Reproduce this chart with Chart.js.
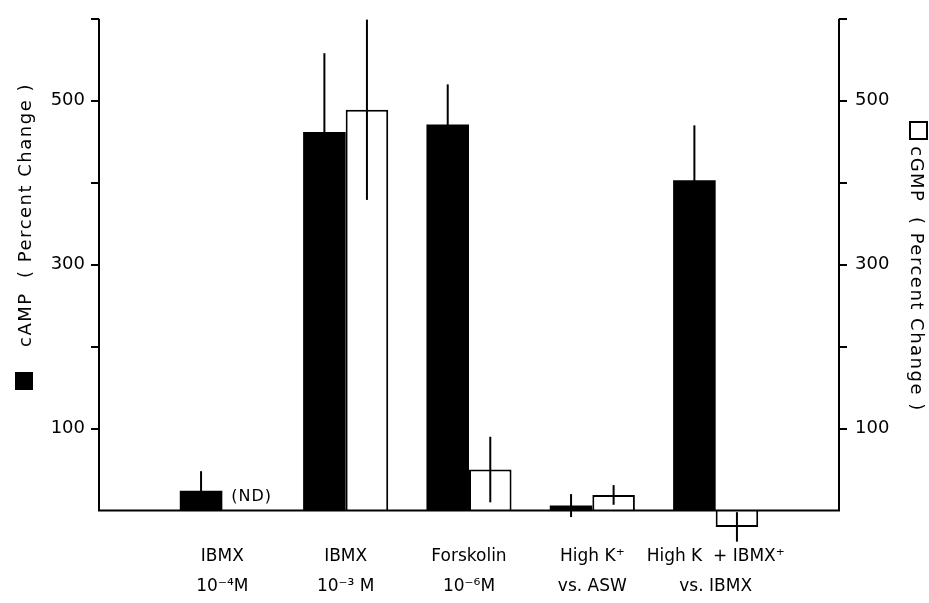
<!DOCTYPE html>
<html>
<head>
<meta charset="utf-8">
<script src="https://cdn.jsdelivr.net/npm/chart.js@4"></script>
<style>
  html, body { margin: 0; padding: 0; background: #fff; }
  #wrap { width: 929px; height: 603px; position: relative; }
</style>
</head>
<body>
<div id="wrap"><canvas id="chart"></canvas></div>
<script>
// categories (empty slots at both ends keep the groups off the axes)
const categories = ['', ['IBMX', '10⁻⁴M'], ['IBMX', '10⁻³ M'], ['Forskolin', '10⁻⁶M'], ['High K⁺', 'vs. ASW'], ['High K  + IBMX⁺', 'vs. IBMX'], ''];
const campValues = [null, 24, 462, 471, 6, 403, null];
const campErrors = [null, 24, 96, 49, 14, 67, null];
const cgmpValues = [null, null, 489, 50, 19, -20, null];
const cgmpErrors = [null, null, 110, 40, 12, 18, null];
const yTicks = [100, 200, 300, 400, 500, 600];
const yLabels = [100, 300, 500];

const FONT = 'DejaVu Sans';

// axes lines, error bars, titles and legend squares
const decorations = {
    id: 'decorations',
    afterDatasetsDraw(chart) {
        const { ctx, chartArea } = chart;
        const y = chart.scales.y;
        const y0 = y.getPixelForValue(0);
        const yTop = y.getPixelForValue(600);

        ctx.save();
        ctx.strokeStyle = '#000';
        ctx.lineWidth = 2;

        // error bars
        [[campValues, campErrors], [cgmpValues, cgmpErrors]].forEach(([vals, errs], d) => {
            const meta = chart.getDatasetMeta(d);
            vals.forEach((v, i) => {
                if (v === null || errs[i] === null) return;
                const x = meta.data[i].x;
                ctx.beginPath();
                ctx.moveTo(x, y.getPixelForValue(v + errs[i]));
                ctx.lineTo(x, y.getPixelForValue(v - errs[i]));
                ctx.stroke();
            });
        });

        // frame: left axis, baseline, right axis
        ctx.beginPath();
        ctx.moveTo(chartArea.left, yTop);
        ctx.lineTo(chartArea.left, y0);
        ctx.lineTo(chartArea.right, y0);
        ctx.lineTo(chartArea.right, yTop);
        ctx.stroke();

        // (ND) note beside the IBMX 10-4 bar
        const bar = chart.getDatasetMeta(0).data[1];
        ctx.fillStyle = '#000';
        ctx.font = '16px ' + FONT;
        ctx.letterSpacing = '1px';
        ctx.textAlign = 'left';
        ctx.textBaseline = 'middle';
        ctx.fillText('(ND)', bar.x + bar.width / 2 + 9, y.getPixelForValue(campValues[1]) + 6);

        // axis titles
        ctx.font = '18px ' + FONT;
        ctx.letterSpacing = '1.5px';
        ctx.textAlign = 'center';
        ctx.save();
        ctx.translate(26, 215);
        ctx.rotate(-Math.PI / 2);
        ctx.fillText('cAMP  ( Percent Change )', 0, 0);
        ctx.restore();

        ctx.save();
        ctx.translate(916, 279);
        ctx.rotate(Math.PI / 2);
        ctx.fillText('cGMP  ( Percent Change )', 0, 0);
        ctx.restore();

        // legend squares
        ctx.fillRect(15, 372, 18, 18);
        ctx.lineWidth = 2;
        ctx.strokeRect(910, 122, 17, 17);

        ctx.restore();
    }
};

const yCommon = {
    min: -25,
    max: 600,
    afterBuildTicks: (scale) => { scale.ticks = yTicks.map(v => ({ value: v })); },
    border: { display: false },
    grid: { drawOnChartArea: false, drawTicks: true, tickLength: 8, color: '#000', lineWidth: 2 },
};

new Chart(document.getElementById('chart'), {
    type: 'bar',
    data: {
        labels: categories,
        datasets: [{
            label: 'cAMP',
            data: campValues,
            backgroundColor: '#000',
            borderColor: '#000',
            borderWidth: 0,
            yAxisID: 'y'
        }, {
            label: 'cGMP',
            data: cgmpValues,
            backgroundColor: '#fff',
            borderColor: '#000',
            borderWidth: 2,
            yAxisID: 'y'
        }]
    },
    options: {
        responsive: true,
        maintainAspectRatio: false,
        animation: false,
        categoryPercentage: 0.69,
        barPercentage: 1,
        layout: { padding: { top: 15 } },
        plugins: { legend: { display: false }, tooltip: { enabled: false } },
        scales: {
            x: {
                offset: false,
                grid: { display: false },
                border: { display: false },
                afterFit: (scale) => { scale.height = 72; },
                ticks: {
                    autoSkip: false,
                    maxRotation: 0,
                    padding: 2,
                    color: '#000',
                    font: { family: FONT, size: 17, lineHeight: 1.8 }
                }
            },
            y: {
                ...yCommon,
                position: 'left',
                afterFit: (scale) => { scale.width = 99; },
                ticks: {
                    padding: 6,
                    color: '#000',
                    font: { family: FONT, size: 18 },
                    callback: (v) => yLabels.includes(v) ? String(v) : ''
                }
            },
            y2: {
                ...yCommon,
                position: 'right',
                afterFit: (scale) => { scale.width = 90; },
                ticks: {
                    padding: 8,
                    color: '#000',
                    font: { family: FONT, size: 18 },
                    callback: (v) => yLabels.includes(v) ? String(v) : ''
                }
            }
        }
    },
    plugins: [decorations]
});
</script>
</body>
</html>
